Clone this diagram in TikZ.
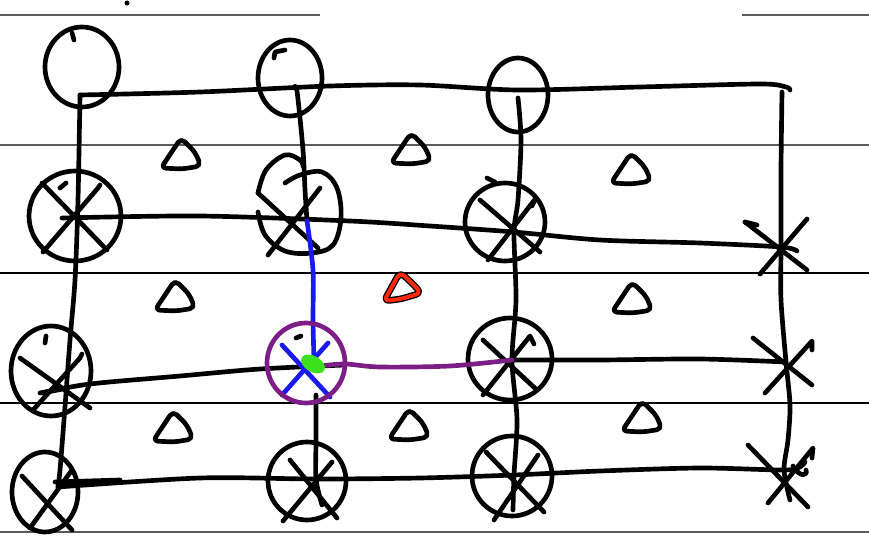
\documentclass[tikz,border=0pt]{standalone}
\usetikzlibrary{calc}
\definecolor{rulegray}{RGB}{90,90,90}
\definecolor{penpurple}{RGB}{125,30,135}
\definecolor{penblue}{RGB}{25,25,240}
\definecolor{pengreen}{RGB}{60,225,30}
\definecolor{penred}{RGB}{255,40,10}
\tikzset{
  ink/.style={draw=black, line width=3.5pt, line cap=round, line join=round},
  inkblue/.style={ink, draw=penblue},
  inkpurple/.style={ink, draw=penpurple},
  ruling/.style={draw=rulegray, line width=1.2pt},
  rulingdark/.style={draw=black, line width=0.9pt},
  ttri/.pic={\draw[ink, rounded corners=4pt] (-1,-20) -- (13,-6) -- (19,8) -- (0,11) -- (-21,10) -- cycle;},
  redtri/.pic={
    \draw[black, line width=5pt, line join=round, rounded corners=4pt] (-2,-16) -- (12,-3) -- (19,5) -- (-1,11) -- (-18,13) -- cycle;
    \draw[penred, line width=3pt, line join=round, rounded corners=4pt] (-2,-16) -- (12,-3) -- (19,5) -- (-1,11) -- (-18,13) -- cycle;}
}
\begin{document}
\begin{tikzpicture}[x=0.75pt,y=-0.75pt]
\useasboundingbox (0,0) rectangle (869,553);
\fill[white] (0,0) rectangle (869,553);

% ruled paper lines
\draw[ruling] (0,15) -- (320,15);
\draw[ruling] (742,15) -- (869,15);
\draw[ruling] (0,145) -- (869,145);
\draw[rulingdark] (0,273) -- (869,273);
\draw[rulingdark] (0,403) -- (869,403);
\draw[ruling] (0,532) -- (869,532);
\fill (127,3) circle [radius=2.5];

% grid points
\coordinate (n00) at (80,95);   \coordinate (n10) at (297,91);  \coordinate (n20) at (518,90);  \coordinate (n30) at (786,87);
\coordinate (n01) at (62,218);  \coordinate (n11) at (307,221); \coordinate (n21) at (514,232); \coordinate (n31) at (781,247);
\coordinate (n02) at (40,393);  \coordinate (n12) at (314,360); \coordinate (n22) at (512,360); \coordinate (n32) at (786,362);
\coordinate (n03) at (58,487);  \coordinate (n13) at (316,479); \coordinate (n23) at (514,475); \coordinate (n33) at (784,470);

% circles, row 0
\draw[ink] (82,67) ellipse [x radius=37, y radius=40];
\draw[ink] (72,33) -- (74,40);
\draw[ink] (290,78) ellipse [x radius=32, y radius=38];
\draw[ink] (285,50) -- (275,52) -- (274,58);
\draw[ink] (518,95) ellipse [x radius=30, y radius=37];

% circles, row 1
\draw[ink] (75,216) ellipse [x radius=46, y radius=45];
\draw[ink] (42,183) -- (107,250);
\draw[ink] (43,252) -- (98,188) -- (100,185);
\draw[ink] (60,188) -- (66,183);
\draw[ink] plot[smooth, tension=0.6] coordinates {(258,193) (266,170) (285,155) (300,160) (303,166)};
\draw[ink] plot[smooth, tension=0.6] coordinates {(285,183) (300,175) (322,172) (337,188) (341,218) (333,245) (312,253) (285,251) (265,235) (258,212)};
\draw[ink] (258,193) -- (318,248);
\draw[ink] (268,255) -- (320,188);
\draw[ink] (505,222) ellipse [x radius=40, y radius=39];
\draw[ink] (487,178) -- (495,182);
\draw[ink] (480,200) -- (540,252);
\draw[ink] (488,260) -- (536,198) -- (532,206);

% circles, row 2
\draw[ink] (51,371) ellipse [x radius=40, y radius=45];
\draw[ink] (45,343) -- (46,336);
\draw[ink] (20,358) -- (90,408);
\draw[ink] (33,410) -- (80,358) -- (82,354);
\draw[ink] (42,393) -- (68,388);
\draw[ink] (510,359) ellipse [x radius=42, y radius=41];
\draw[ink] (483,340) -- (537,390);
\draw[ink] (483,395) -- (530,336) -- (534,344);

% circles, row 3
\draw[ink] (45,492) ellipse [x radius=33, y radius=40];
\draw[ink] (22,476) -- (72,530);
\draw[ink] (30,528) -- (72,470);
\draw[ink] (307,481) ellipse [x radius=39, y radius=39];
\draw[ink] (290,460) -- (337,518);
\draw[ink] (283,521) -- (332,462);
\draw[ink] (512,476) ellipse [x radius=40, y radius=40];
\draw[ink] (486,452) -- (544,512);
\draw[ink] (494,520) -- (538,455);

% grid connectors, rows
\draw[ink] plot[smooth, tension=0.5] coordinates {(n00) (200,92) (330,86) (420,85) (n20) (640,87) (760,84) (n30) (790,90)};
\draw[ink] plot[smooth, tension=0.5] coordinates {(n01) (200,216) (350,221) (430,226) (n21) (600,240) (700,243) (n31) (797,251)};
\draw[ink] plot[smooth, tension=0.5] coordinates {(n02) (90,384) (180,376) (260,369) (345,365)};
\draw[ink] plot[smooth, tension=0.5] coordinates {(n22) (600,360) (700,359) (n32)};
\draw[ink] (55,482) -- (120,480);
\draw[ink] plot[smooth, tension=0.5] coordinates {(n03) (200,478) (n13) (420,478) (n23) (600,471) (700,468) (n33) (800,467) (805,462)};

% grid connectors, columns
\draw[ink] plot[smooth, tension=0.5] coordinates {(n00) (78,200) (75,280) (70,340) (64,420) (60,470) (n03)};
\draw[ink] plot[smooth, tension=0.5] coordinates {(294,88) (n10) (303,150) (305,190) (n11)};
\draw[inkblue] plot[smooth, tension=0.5] coordinates {(n11) (313,270) (313,320) (n12)};
\draw[ink] plot[smooth, tension=0.5] coordinates {(316,395) (316,440) (n13) (322,505)};
\draw[ink] plot[smooth, tension=0.5] coordinates {(518,98) (521,140) (518,200) (n21) (516,300) (n22) (517,420) (n23) (513,510)};
\draw[ink] plot[smooth, tension=0.5] coordinates {(782,92) (781,170) (n31) (781,300) (n32) (790,405) (788,440) (n33) (790,500)};

% stars, column 3
\draw[ink] (745,222) -- (807,270);
\draw[ink] (745,222) -- (757,225);
\draw[ink] (760,274) -- (807,219);
\draw[ink] (753,338) -- (812,385);
\draw[ink] (765,393) -- (812,341) -- (812,350);
\draw[ink] (748,445) -- (808,507);
\draw[ink] (768,503) -- (813,448) -- (812,458);
\draw[ink] (793,466) .. controls (800,478) and (808,476) .. (806,470);

% highlighted node
\draw[inkblue] (282,345) -- (330,397);
\draw[inkblue] (282,395) -- (328,343);
\draw[ink] (296,338) -- (301,336);
\draw[inkpurple] (306,363) ellipse [x radius=39, y radius=40];
\draw[inkpurple] plot[smooth, tension=0.5] coordinates {(320,366) (345,364) (380,367) (450,366) (n22)};
\fill[pengreen, rotate around={-30:(313,364)}] (313,364) ellipse [x radius=13, y radius=8];

% triangles
\pic at (182,158) {ttri};
\pic at (412,153) {ttri};
\pic at (632,173) {ttri};
\pic at (176,300) {ttri};
\pic at (402,288) {redtri};
\pic at (633,302) {ttri};
\pic at (174,431) {ttri};
\pic at (410,429) {ttri};
\pic at (643,421) {ttri};
\end{tikzpicture}
\end{document}
